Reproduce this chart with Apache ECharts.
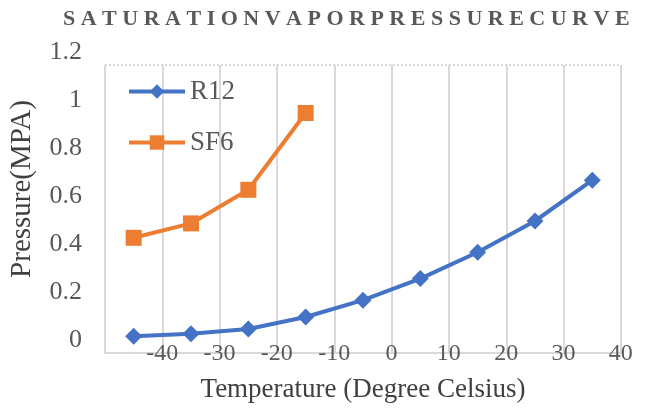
<!DOCTYPE html>
<html>
<head>
<meta charset="utf-8">
<script src="https://cdn.jsdelivr.net/npm/echarts@6/dist/echarts.min.js"></script>
<style>
  html, body { margin: 0; padding: 0; background: #fff; }
  #main { width: 646px; height: 408px; }
</style>
</head>
<body>
<div id="main"></div>
<script>
// temperature categories (Degree Celsius)
var temps = ['-40', '-30', '-20', '-10', '0', '10', '20', '30', '40'];
// saturation vapor pressure, MPa
var r12 = [0.07, 0.08, 0.10, 0.15, 0.22, 0.31, 0.42, 0.55, 0.72];
var sf6 = [0.48, 0.54, 0.68, 1.0];
var yTicks = { min: 0, max: 1.2, step: 0.2 };

var FONT = 'Liberation Serif';
var myChart = echarts.init(document.getElementById('main'));

var option = {
  animation: false,
  title: {
    text: 'S A T U R A T I O N V A P O R P R E S S U R E C U R V E',
    left: 58,
    top: 3,
    textStyle: { fontFamily: FONT, fontSize: 22, fontWeight: 'bold', color: '#595959' }
  },
  legend: {
    orient: 'vertical',
    left: 122,
    top: 73,
    itemWidth: 56,
    itemHeight: 18,
    itemGap: 24,
    textStyle: { fontFamily: FONT, fontSize: 27, color: '#595959' },
    lineStyle: { width: 4 },
    data: ['R12', 'SF6']
  },
  grid: { left: 105, right: 25, top: 65, bottom: 51 },
  xAxis: {
    type: 'category',
    data: temps,
    boundaryGap: true,
    name: 'Temperature (Degree Celsius)',
    nameLocation: 'middle',
    nameGap: 23,
    nameTextStyle: { fontFamily: FONT, fontSize: 27, color: '#404040' },
    axisLine: { lineStyle: { color: '#d9d9d9', width: 2 } },
    axisTick: { show: false },
    axisLabel: {
      margin: -11,
      fontFamily: FONT,
      fontSize: 24,
      color: '#595959',
      padding: [0, 0, 0, 57]
    },
    splitLine: { show: true, lineStyle: { color: '#d9d9d9', width: 2 } }
  },
  yAxis: [
    {
      type: 'value',
      min: yTicks.min,
      max: yTicks.max,
      interval: yTicks.step,
      name: 'Pressure(MPA)',
      nameLocation: 'middle',
      nameGap: 68,
      nameTextStyle: { fontFamily: FONT, fontSize: 29, color: '#404040', padding: [0, 0, 0, 40] },
      axisLine: { show: false },
      axisTick: { show: false },
      axisLabel: { margin: 23, fontFamily: FONT, fontSize: 26, color: '#595959', verticalAlign: 'bottom' },
      splitLine: { show: false }
    },
    {
      // only used for the dotted top border of the plot area
      type: 'value',
      min: yTicks.min,
      max: yTicks.max,
      interval: yTicks.max,
      position: 'left',
      axisLine: { show: false },
      axisTick: { show: false },
      axisLabel: { show: false },
      splitLine: { show: true, lineStyle: { color: '#d9d9d9', width: 2, type: 'dotted' } }
    }
  ],
  series: [
    {
      name: 'R12',
      type: 'line',
      data: r12,
      symbol: 'diamond',
      symbolSize: 17,
      itemStyle: { color: '#4472C4' },
      lineStyle: { color: '#4472C4', width: 4 }
    },
    {
      name: 'SF6',
      type: 'line',
      data: sf6,
      symbol: 'rect',
      symbolSize: 16,
      itemStyle: { color: '#ED7D31' },
      lineStyle: { color: '#ED7D31', width: 4 }
    }
  ]
};

myChart.setOption(option);
</script>
</body>
</html>
